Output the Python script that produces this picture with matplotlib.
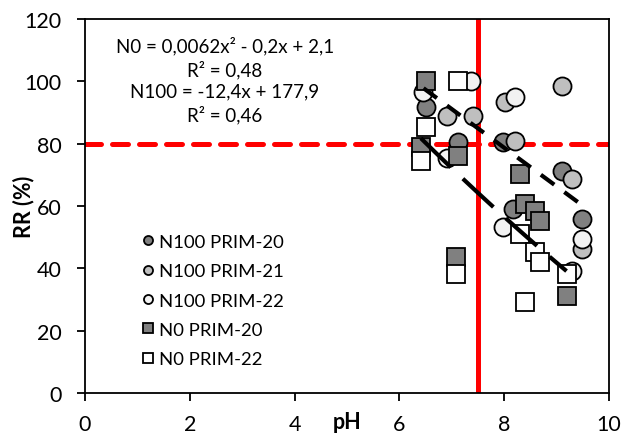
import numpy as np
import matplotlib
matplotlib.use("Agg")
import matplotlib.pyplot as plt

plt.rcParams['font.family'] = ['Lato', 'DejaVu Sans']

# N100 series (circles)
n100_p20_ph = [6.50, 7.12, 7.98, 8.17, 9.10, 9.48]
n100_p20_rr = [91.9, 80.4, 80.4, 59.0, 71.3, 55.8]
n100_p21_ph = [6.90, 7.41, 8.02, 9.10, 8.21, 9.29, 9.48]
n100_p21_rr = [89.0, 89.0, 93.3, 98.6, 80.7, 68.7, 46.2]
n100_p22_ph = [6.46, 6.90, 7.37, 8.21, 7.98, 9.29, 9.48]
n100_p22_rr = [96.5, 75.3, 100.0, 94.9, 53.2, 39.2, 49.4]

# N0 series (squares)
n0_p20_ph = [6.50, 6.41, 7.12, 7.09, 8.30, 8.40, 8.59, 8.68, 9.19]
n0_p20_rr = [100.0, 78.8, 76.1, 43.5, 70.3, 60.6, 58.5, 55.3, 31.2]
n0_p22_ph = [6.50, 6.41, 7.12, 7.09, 8.30, 8.59, 8.68, 9.19, 8.40]
n0_p22_rr = [85.2, 74.5, 100.0, 38.2, 51.0, 45.1, 41.9, 38.2, 29.1]

# N100 trend as printed on the chart
n100_slope, n100_icpt = -12.4, 177.9

ph_limit = 7.5
rr_limit = 80

eq_text = "N0 = 0,0062x\u00b2 - 0,2x + 2,1\nR\u00b2 = 0,48\nN100 = -12,4x + 177,9\nR\u00b2 = 0,46"

fig = plt.figure(figsize=(6.23, 4.35), dpi=100)
ax = fig.add_axes([0.1364, 0.0943, 0.8411, 0.8597])

ax.axvline(ph_limit, color='#FF0000', lw=3.6, zorder=1)
ax.axhline(rr_limit, color='#FF0000', lw=3.6, dashes=(3.2, 2.2),
           dash_capstyle='round', zorder=1)

ms = 13
ew = 1.3
ax.plot(n100_p20_ph, n100_p20_rr, 'o', ms=ms, mfc='#808080', mec='black', mew=ew, label='N100 PRIM-20', zorder=3)
ax.plot(n100_p21_ph, n100_p21_rr, 'o', ms=ms, mfc='#BFBFBF', mec='black', mew=ew, label='N100 PRIM-21', zorder=3)
ax.plot(n100_p22_ph, n100_p22_rr, 'o', ms=ms, mfc='#F2F2F2', mec='black', mew=ew, label='N100 PRIM-22', zorder=3)
ax.plot(n0_p20_ph, n0_p20_rr, 's', ms=ms, mfc='#808080', mec='black', mew=ew, label='N0 PRIM-20', zorder=3)
ax.plot(n0_p22_ph, n0_p22_rr, 's', ms=ms, mfc='white', mec='black', mew=ew, label='N0 PRIM-22', zorder=3)

# trend lines
x100 = np.linspace(min(n100_p20_ph + n100_p21_ph + n100_p22_ph),
                   max(n100_p20_ph + n100_p21_ph + n100_p22_ph), 50)
ax.plot(x100, n100_slope * x100 + n100_icpt, color='black', lw=3,
        dashes=(4, 3), zorder=4)
n0_ph = np.array(n0_p20_ph + n0_p22_ph)
n0_rr = np.array(n0_p20_rr + n0_p22_rr)
coef = np.polyfit(n0_ph, n0_rr, 2)
x0 = np.linspace(n0_ph.min(), n0_ph.max(), 50)
ax.plot(x0, np.polyval(coef, x0), color='black', lw=3, dashes=(10, 4), zorder=4)

ax.text(2.67, 100.6, eq_text, ha='center', va='center', fontsize=13.5,
        linespacing=1.33)

ax.set_xlim(0, 10)
ax.set_ylim(0, 120)
ax.set_xticks(range(0, 11, 2))
ax.set_yticks(range(0, 121, 20))
ax.tick_params(direction='out', length=6, width=1.3, labelsize=15.5)
ax.tick_params(axis='y', pad=11)
ax.tick_params(axis='x', pad=9)
for s in ax.spines.values():
    s.set_linewidth(1.3)
ax.set_xlabel('pH', fontsize=15.5, fontweight='bold', va='center')
ax.xaxis.set_label_coords(0.5, -0.0775)
ax.set_ylabel('RR (%)', fontsize=15.5, fontweight='bold', va='center')
ax.yaxis.set_label_coords(-0.118, 0.5)

ax.legend(loc='upper left', bbox_to_anchor=(0.095, 0.445), frameon=False,
          fontsize=13.3, markerscale=0.5, handlelength=0.6, handletextpad=0.3,
          labelspacing=0.72, borderaxespad=0)

fig.savefig('out.png', dpi=100)
